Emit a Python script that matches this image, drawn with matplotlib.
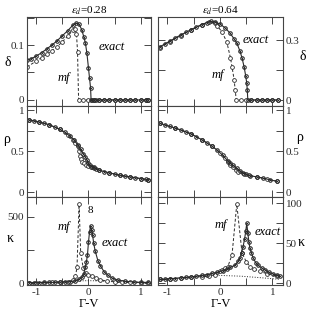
import matplotlib
matplotlib.use("Agg")
import matplotlib.pyplot as plt
from matplotlib.ticker import MultipleLocator

plt.rcParams['font.family'] = ['Liberation Serif', 'DejaVu Serif']
plt.rcParams['mathtext.fontset'] = 'stix'
plt.rcParams['font.size'] = 8

# ---------------- data: eps_d = 0.28 (left) ----------------
dL_ex_x = [-1.18, -1.1, -1.0, -0.9, -0.8, -0.7, -0.6, -0.5, -0.4, -0.3, -0.24, -0.18, -0.13,
           -0.09, -0.06, -0.03, 0.0, 0.02, 0.04, 0.05, 0.07, 0.1, 0.15, 0.2, 0.3, 0.4, 0.5,
           0.6, 0.7, 0.8, 0.9, 1.0, 1.1, 1.15]
dL_ex_y = [0.072, 0.075, 0.08, 0.086, 0.093, 0.1, 0.108, 0.117, 0.126, 0.136, 0.14, 0.138, 0.128,
           0.115, 0.104, 0.085, 0.058, 0.04, 0.022, 0.0, 0.0, 0.0, 0.0, 0.0, 0.0, 0.0, 0.0,
           0.0, 0.0, 0.0, 0.0, 0.0, 0.0, 0.0]
dL_mf_x = [-1.18, -1.0, -0.9, -0.8, -0.7, -0.6, -0.5, -0.4, -0.3, -0.26, -0.23, -0.21, -0.19,
           -0.1, 0.0, 0.1, 0.2, 0.3, 0.4, 0.5, 0.6, 0.7, 0.8, 0.9, 1.0, 1.1, 1.15]
dL_mf_y = [0.06, 0.071, 0.077, 0.083, 0.09, 0.097, 0.106, 0.116, 0.127, 0.13, 0.12, 0.088, 0.0,
           0.0, 0.0, 0.0, 0.0, 0.0, 0.0, 0.0, 0.0, 0.0, 0.0, 0.0, 0.0, 0.0, 0.0]

rL_ex_x = [-1.15, -1.05, -0.95, -0.85, -0.75, -0.65, -0.55, -0.45, -0.35, -0.27, -0.2, -0.15, -0.1,
           -0.06, -0.03, 0.0, 0.03, 0.06, 0.1, 0.15, 0.2, 0.3, 0.4, 0.5, 0.6, 0.7, 0.8, 0.9,
           1.0, 1.1, 1.15]
rL_ex_y = [0.88, 0.87, 0.855, 0.84, 0.82, 0.795, 0.765, 0.73, 0.68, 0.63, 0.57, 0.52, 0.47,
           0.43, 0.39, 0.35, 0.325, 0.31, 0.3, 0.285, 0.27, 0.25, 0.235, 0.22, 0.205, 0.195, 0.185,
           0.175, 0.165, 0.155, 0.15]
rL_mf_x = [-1.15, -0.95, -0.75, -0.55, -0.4, -0.3, -0.25, -0.21, -0.19, -0.17, -0.15, -0.12,
           -0.08, -0.04, 0.0, 0.05, 0.1, 0.2, 0.4, 0.6, 0.8, 1.0, 1.15]
rL_mf_y = [0.88, 0.855, 0.82, 0.765, 0.7, 0.64, 0.6, 0.56, 0.5, 0.44, 0.4, 0.37,
           0.35, 0.335, 0.32, 0.305, 0.295, 0.27, 0.235, 0.205, 0.185, 0.165, 0.15]

kL_ex_x = [-1.15, -1.05, -0.95, -0.85, -0.75, -0.65, -0.55, -0.45, -0.35, -0.25, -0.18, -0.13,
           -0.09, -0.06, -0.04, -0.02, 0.0, 0.02, 0.04, 0.06, 0.08, 0.1, 0.13, 0.18, 0.23, 0.3,
           0.37, 0.45, 0.56, 0.7, 0.87, 1.0, 1.15]
kL_ex_y = [3, 3, 3, 4, 4, 5, 6, 8, 11, 17, 28, 45, 70, 120, 160, 210, 310, 385, 430, 400, 360,
           300, 240, 170, 130, 85, 60, 38, 23, 13, 8, 5, 4]
kL_mf_x = [-1.15, -1.0, -0.85, -0.7, -0.55, -0.4, -0.3, -0.25, -0.22, -0.18, -0.15, -0.1,
           -0.05, 0.0, 0.07, 0.15, 0.23, 0.35, 0.5, 0.65, 0.8, 1.0, 1.15]
kL_mf_y = [2, 3, 3, 4, 6, 10, 22, 50, 120, 595, 230, 110, 75, 62, 55, 38, 24, 15, 9, 6, 4, 3, 3]
kL_dot_x = [-1.15, -0.8, -0.5, -0.3, -0.1, 0.0, 0.1, 0.3, 0.5, 0.8, 1.15]
kL_dot_y = [5, 7, 10, 13, 17, 18, 17, 13, 10, 7, 5]

# ---------------- data: eps_d = 0.64 (right) ----------------
dR_ex_x = [-1.15, -1.05, -0.95, -0.85, -0.75, -0.65, -0.55, -0.45, -0.35, -0.25, -0.18, -0.1,
           0.0, 0.1, 0.19, 0.27, 0.32, 0.38, 0.42, 0.46, 0.49, 0.51, 0.52, 0.53, 0.6, 0.7,
           0.8, 0.9, 1.0, 1.1]
dR_ex_y = [0.265, 0.28, 0.295, 0.31, 0.325, 0.338, 0.352, 0.365, 0.377, 0.387, 0.393, 0.39,
           0.38, 0.36, 0.335, 0.305, 0.285, 0.245, 0.21, 0.165, 0.12, 0.085, 0.05, 0.0, 0.0, 0.0,
           0.0, 0.0, 0.0, 0.0]
dR_mf_x = [-1.15, -0.95, -0.75, -0.55, -0.35, -0.2, -0.1, -0.05, 0.04, 0.13, 0.2, 0.23,
           0.27, 0.29, 0.31, 0.4, 0.5, 0.6, 0.7, 0.8, 0.9, 1.0, 1.1]
dR_mf_y = [0.262, 0.292, 0.322, 0.35, 0.375, 0.39, 0.385, 0.37, 0.34, 0.29, 0.21, 0.165,
           0.1, 0.05, 0.0, 0.0, 0.0, 0.0, 0.0, 0.0, 0.0, 0.0, 0.0]

rR_ex_x = [-1.15, -1.05, -0.95, -0.85, -0.75, -0.65, -0.55, -0.45, -0.35, -0.25, -0.15, -0.05,
           0.05, 0.15, 0.2, 0.25, 0.32, 0.38, 0.44, 0.5, 0.57, 0.7, 0.82, 0.95, 1.09]
rR_ex_y = [0.84, 0.82, 0.8, 0.78, 0.76, 0.735, 0.71, 0.675, 0.64, 0.6, 0.56, 0.51,
           0.45, 0.38, 0.35, 0.325, 0.29, 0.26, 0.235, 0.215, 0.2, 0.185, 0.17, 0.15, 0.13]
rR_mf_x = [-1.15, -0.85, -0.55, -0.35, -0.15, 0.0, 0.1, 0.15, 0.2, 0.25, 0.31, 0.35, 0.45,
           0.55, 0.7, 0.9, 1.09]
rR_mf_y = [0.84, 0.78, 0.71, 0.64, 0.56, 0.48, 0.41, 0.37, 0.335, 0.3, 0.265, 0.25, 0.225,
           0.205, 0.185, 0.16, 0.13]

kR_ex_x = [-1.15, -1.05, -0.95, -0.85, -0.75, -0.65, -0.55, -0.45, -0.35, -0.25, -0.15, -0.05,
           0.05, 0.13, 0.2, 0.29, 0.35, 0.38, 0.41, 0.44, 0.47, 0.49, 0.51, 0.53, 0.55, 0.57,
           0.6, 0.63, 0.68, 0.72, 0.8, 0.86, 0.93, 1.01, 1.08, 1.14]
kR_ex_y = [5, 5, 6, 6, 7, 7.5, 8, 9, 10, 11, 12.5, 14, 16, 18, 20, 23, 28, 32, 38, 46, 56, 65,
           75, 63, 52, 44, 38, 32, 26, 23, 19, 17, 14, 12, 10, 9]
kR_mf_x = [-1.15, -0.95, -0.75, -0.55, -0.35, -0.2, -0.1, 0.0, 0.04, 0.1, 0.15, 0.23, 0.32,
           0.42, 0.5, 0.57, 0.65, 0.76, 0.9, 1.09]
kR_mf_y = [5, 5.5, 6.5, 7.5, 8.5, 9, 11, 15, 17, 19, 21, 36, 99, 38, 27, 21, 18, 15, 12, 9]
kR_dot_x = [-1.15, -0.8, -0.4, 0.0, 0.4, 0.8, 1.15]
kR_dot_y = [5, 7, 9, 10, 9, 7, 5]

titles = [r'$\varepsilon_d$=0.28', r'$\varepsilon_d$=0.64']

# ---------------- figure ----------------
W, H = 311, 310
fig = plt.figure(figsize=(W / 100, H / 100), dpi=100)

def px_ax(x0, y0, x1, y1):
    return fig.add_axes([x0 / W, 1 - y1 / H, (x1 - x0) / W, (y1 - y0) / H])

cols = [(27, 151), (158, 283)]
rows = [(17, 106), (106, 197), (197, 285)]
axes = [[px_ax(c[0], r[0], c[1], r[1]) for c in cols] for r in rows]

C = '#2a2a2a'
ex_kw = dict(color=C, lw=0.8, ls='-', marker='o', ms=2.7, mfc='none', mec=C, mew=0.6)
mf_kw = dict(color=C, lw=0.7, ls=(0, (3, 2)), marker='o', ms=2.7, mfc='white', mec=C, mew=0.6)

def plot_ex(ax, x, y):
    ax.plot(x, y, **ex_kw)
    ax.plot(x, y, ls='none', marker='x', ms=1.8, mec=C, mew=0.5)

def plot_mf(ax, x, y):
    ax.plot(x, y, **mf_kw)

for r, row in enumerate(axes):
    for c, ax in enumerate(row):
        ax.set_xlim(-1.18, 1.2)
        ax.xaxis.set_major_locator(MultipleLocator(1))
        ax.xaxis.set_minor_locator(MultipleLocator(0.5))
        ax.tick_params(which='both', direction='in', top=True, right=True,
                       labelsize=8, pad=2, colors=C)
        ax.tick_params(which='major', length=5, width=0.6)
        ax.tick_params(which='minor', length=5, width=0.6)
        for s in ax.spines.values():
            s.set_color('#444444')
            s.set_linewidth(0.8)
        if r < 2:
            ax.tick_params(labelbottom=False)
        if c == 1:
            ax.tick_params(labelleft=False, labelright=True)

# top row: delta
a = axes[0][0]
plot_mf(a, dL_mf_x, dL_mf_y)
plot_ex(a, dL_ex_x, dL_ex_y)
a.set_ylim(-0.011, 0.151)
a.yaxis.set_major_locator(MultipleLocator(0.1))
a.yaxis.set_minor_locator(MultipleLocator(0.05))
a.yaxis.set_major_formatter(plt.FuncFormatter(lambda v, p: '0' if abs(v) < 1e-9 else f'{v:g}'))
a.text(-0.48, 0.04, 'mf', style='italic', ha='center', va='center', fontsize=9)
a.text(0.45, 0.097, 'exact', style='italic', ha='center', va='center', fontsize=9)
a.set_title(titles[0], fontsize=8, pad=2)

a = axes[0][1]
plot_mf(a, dR_mf_x, dR_mf_y)
plot_ex(a, dR_ex_x, dR_ex_y)
a.set_ylim(-0.03, 0.415)
a.yaxis.set_major_locator(MultipleLocator(0.3))
a.yaxis.set_minor_locator(MultipleLocator(0.15))
a.yaxis.set_major_formatter(plt.FuncFormatter(lambda v, p: '0' if abs(v) < 1e-9 else f'{v:g}'))
a.text(-0.04, 0.125, 'mf', style='italic', ha='center', va='center', fontsize=9)
a.text(0.68, 0.3, 'exact', style='italic', ha='center', va='center', fontsize=9)
a.set_title(titles[1], fontsize=8, pad=2)

# middle row: rho
for a, (ex_x, ex_y, mf_x, mf_y) in zip(axes[1], [(rL_ex_x, rL_ex_y, rL_mf_x, rL_mf_y),
                                                 (rR_ex_x, rR_ex_y, rR_mf_x, rR_mf_y)]):
    plot_mf(a, mf_x, mf_y)
    plot_ex(a, ex_x, ex_y)
    a.set_ylim(-0.06, 1.05)
    a.yaxis.set_major_locator(MultipleLocator(0.5))
    a.yaxis.set_minor_locator(MultipleLocator(0.25))
    a.yaxis.set_major_formatter(plt.FuncFormatter(lambda v, p: f'{v:g}'))

# bottom row: kappa
a = axes[2][0]
a.plot(kL_dot_x, kL_dot_y, color=C, lw=0.7, ls=':')
plot_mf(a, kL_mf_x, kL_mf_y)
plot_ex(a, kL_ex_x, kL_ex_y)
a.set_ylim(-15, 650)
a.yaxis.set_major_locator(MultipleLocator(500))
a.yaxis.set_minor_locator(MultipleLocator(250))
a.text(-0.48, 424, 'mf', style='italic', ha='center', va='center', fontsize=9)
a.text(0.5, 300, 'exact', style='italic', ha='center', va='center', fontsize=9)
a.text(0.04, 545, '8', ha='center', va='center', fontsize=8)

a = axes[2][1]
a.plot(kR_dot_x, kR_dot_y, color=C, lw=0.7, ls=':')
plot_mf(a, kR_mf_x, kR_mf_y)
plot_ex(a, kR_ex_x, kR_ex_y)
a.set_ylim(-2, 108)
a.yaxis.set_major_locator(MultipleLocator(50))
a.yaxis.set_minor_locator(MultipleLocator(25))
a.text(0.02, 73, 'mf', style='italic', ha='center', va='center', fontsize=9)
a.text(0.9, 64, 'exact', style='italic', ha='center', va='center', fontsize=9)

for a in axes[2]:
    a.xaxis.set_major_formatter(plt.FuncFormatter(lambda v, p: f'{v:g}'))
    a.set_xlabel('Γ-V', fontsize=9, labelpad=1)

# y labels
def ftxt(x, y, s, **kw):
    fig.text(x / W, 1 - y / H, s, ha='center', va='center', fontsize=10, **kw)

ftxt(8, 62, 'δ')
ftxt(7, 140, 'ρ')
ftxt(10, 239, 'κ')
ftxt(303, 56, 'δ')
ftxt(300, 138, 'ρ')
ftxt(301, 242, 'κ')

fig.savefig('out.png', dpi=100)
